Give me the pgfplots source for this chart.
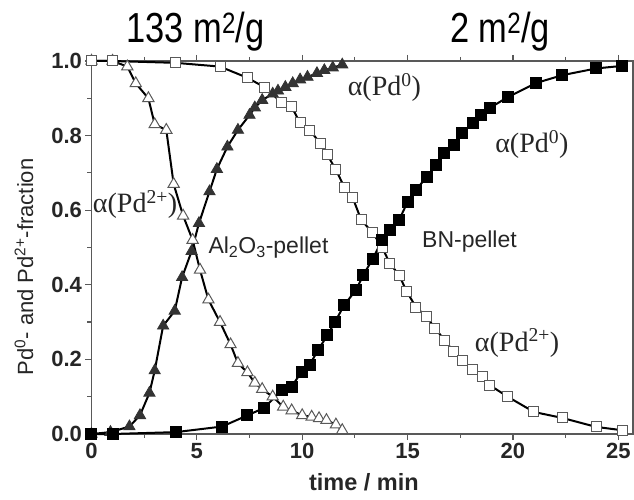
\documentclass[border=0pt]{standalone}
\usepackage{pgfplots}
\pgfplotsset{compat=1.18}
\usepackage{fontspec}
\setmainfont{Liberation Sans}
\newfontfamily\serif{Liberation Serif}
\begin{document}
\begin{tikzpicture}
\useasboundingbox (-91.5pt,-66pt) rectangle (542.5pt,434pt);
\begin{axis}[
  at={(0,0)}, anchor=south west,
  scale only axis, width=541.5pt, height=373pt,
  xmin=0, xmax=25.7, ymin=0, ymax=1,
  clip=false,
  xtick={0,5,10,15,20,25},
  ytick={0,0.2,0.4,0.6,0.8,1.0},
  minor x tick num=1, minor y tick num=1,
  tick align=outside,
  major tick length=6pt, minor tick length=4pt,
  every tick/.style={gray!70!black, line width=1.2pt},
  axis line style={gray!70!black, line width=1.5pt},
  /pgf/number format/assume math mode=true,
  yticklabel style={/pgf/number format/fixed, /pgf/number format/fixed zerofill, /pgf/number format/precision=1},
  ticklabel style={font=\fontsize{22}{22}\selectfont\bfseries, text=black!85},
  xlabel={time / min},
  xlabel style={at={(axis description cs:0.503,0)}, anchor=base, yshift=-56pt, font=\fontsize{23.5}{23.5}\selectfont\bfseries, text=black!85},
  ylabel={Pd\textsuperscript{0}- and Pd\textsuperscript{2+}-fraction},
  ylabel style={at={(axis description cs:-0.1247,0.448)}, anchor=center, font=\fontsize{22}{22}\selectfont, text=black!85},
]
% Al2O3 Pd2+ (open triangles)
\addplot[black, line width=2pt, mark=triangle*, mark size=6.5pt, mark options={fill=white, draw=gray!70!black, line width=1pt}] coordinates {
(0,1.0)(1.0,1.0)(1.7,0.985)(2.1,0.94)(2.7,0.90)(3.0,0.83)(3.55,0.815)(3.9,0.67)(4.35,0.585)(4.8,0.52)(5.15,0.44)(5.55,0.36)(6.1,0.30)(6.6,0.24)(6.95,0.19)(7.4,0.165)(7.75,0.137)(8.1,0.12)(8.6,0.10)(9.1,0.073)(9.5,0.063)(10.0,0.05)(10.45,0.046)(10.8,0.042)(11.15,0.037)(11.6,0.025)(11.9,0.01)
};
% Al2O3 Pd0 (filled triangles)
\addplot[black, line width=2pt, mark=triangle*, mark size=6.5pt, mark options={fill=black!80, draw=black!80, line width=0.8pt}] coordinates {
(0,0)(0.9,0.005)(1.8,0.02)(2.3,0.05)(2.75,0.11)(3.0,0.17)(3.4,0.29)(3.95,0.33)(4.3,0.42)(4.75,0.49)(5.1,0.565)(5.6,0.65)(5.95,0.71)(6.45,0.77)(6.95,0.815)(7.5,0.855)(7.75,0.875)(8.1,0.895)(8.6,0.912)(8.85,0.92)(9.2,0.93)(9.55,0.94)(9.9,0.95)(10.25,0.957)(10.7,0.967)(11.05,0.975)(11.45,0.982)(11.9,0.99)
};
% BN Pd2+ (open squares)
\addplot[black, line width=2pt, mark=square*, mark size=5pt, mark options={fill=white, draw=gray!70!black, line width=1pt}] coordinates {
(0,1.0)(1.0,1.0)(4.0,0.995)(6.1,0.985)(7.4,0.955)(8.2,0.93)(9.0,0.89)(9.5,0.877)(9.9,0.834)(10.35,0.815)(10.85,0.78)(11.2,0.748)(11.6,0.708)(12.0,0.662)(12.4,0.633)(12.8,0.574)(13.35,0.539)(13.8,0.50)(14.15,0.458)(14.6,0.426)(14.95,0.383)(15.4,0.34)(15.9,0.314)(16.3,0.284)(16.75,0.252)(17.2,0.22)(17.6,0.198)(18.1,0.172)(18.55,0.153)(18.9,0.131)(19.75,0.10)(21.0,0.059)(22.35,0.043)(23.95,0.019)(25.2,0.01)
};
% BN Pd0 (filled squares)
\addplot[black, line width=2pt, mark=square*, mark size=5pt, mark options={fill=black, draw=black}] coordinates {
(0,0)(1.0,0)(4.0,0.005)(6.2,0.02)(7.4,0.05)(8.2,0.07)(9.03,0.118)(9.5,0.127)(9.97,0.167)(10.35,0.185)(10.75,0.225)(11.2,0.265)(11.55,0.30)(12.0,0.346)(12.55,0.386)(12.9,0.426)(13.35,0.47)(13.8,0.52)(14.15,0.547)(14.6,0.574)(15.0,0.622)(15.4,0.654)(15.9,0.689)(16.35,0.721)(16.75,0.753)(17.2,0.775)(17.6,0.807)(18.1,0.834)(18.5,0.855)(18.9,0.874)(19.75,0.903)(21.1,0.941)(22.35,0.962)(23.95,0.98)(25.2,0.987)
};
\node[font=\serif\fontsize{28}{28}\selectfont, text=black!85] at (axis cs:13.9,0.93) {α(Pd\textsuperscript{0})};
\node[font=\serif\fontsize{28}{28}\selectfont, text=black!85] at (axis cs:20.9,0.775) {α(Pd\textsuperscript{0})};
\node[font=\serif\fontsize{28}{28}\selectfont, text=black!85] at (axis cs:2.07,0.614) {α(Pd\textsuperscript{2+})};
\node[font=\serif\fontsize{28}{28}\selectfont, text=black!85] at (axis cs:20.2,0.244) {α(Pd\textsuperscript{2+})};
\node[font=\fontsize{23}{23}\selectfont, text=black!85] at (axis cs:8.4,0.50) {Al\textsubscript{2}O\textsubscript{3}-pellet};
\node[font=\fontsize{23}{23}\selectfont, text=black!85] at (axis cs:17.94,0.515) {BN-pellet};
\end{axis}
\node[anchor=base, font=\fontsize{42}{42}\selectfont] at (104pt,391pt) {\scalebox{0.82}[1]{133 m\textsuperscript{2}/g}};
\node[anchor=base, font=\fontsize{42}{42}\selectfont] at (408.5pt,391pt) {\scalebox{0.82}[1]{2 m\textsuperscript{2}/g}};
\end{tikzpicture}
\end{document}
